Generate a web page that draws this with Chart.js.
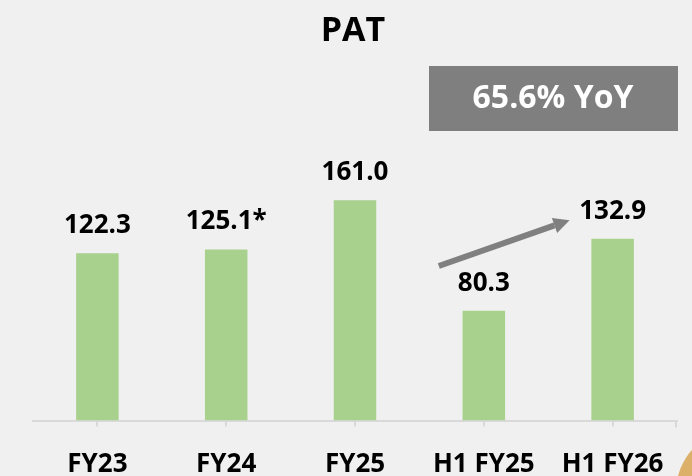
<!DOCTYPE html>
<html>
<head>
<meta charset="utf-8">
<script src="https://cdn.jsdelivr.net/npm/chart.js@4/dist/chart.umd.min.js"></script>
<style>
    html, body { margin: 0; padding: 0; background: #f0f0f0; }
    #wrap { width: 692px; height: 476px; position: relative; }
</style>
</head>
<body>
<div id="wrap"><canvas id="patChart"></canvas></div>
<script>
"use strict";
const categories = ["FY23", "FY24", "FY25", "H1 FY25", "H1 FY26"];
const patValues = [122.3, 125.1, 161.0, 80.3, 132.9];
const patLabels = ["122.3", "125.1*", "161.0", "80.3", "132.9"];
const titleText = "PAT";
const yoyText = "65.6% YoY";

const FONT = "'Open Sans', 'Noto Sans', sans-serif";

// etiquetas, titulo, caja gris y flecha
const decoraciones = {
    id: "decoraciones",
    afterDatasetsDraw(chart) {
        const ctx = chart.ctx;
        const x = chart.scales.x;
        const y = chart.scales.y;
        const meta = chart.getDatasetMeta(0);
        const area = chart.chartArea;

        ctx.save();
        // circulo naranja esquina
        ctx.fillStyle = "#DDB06A";
        ctx.beginPath();
        ctx.arc(740, 492, 64, 0, Math.PI * 2);
        ctx.fill();

        // marca final del eje
        ctx.strokeStyle = "#D9D9D9";
        ctx.lineWidth = 2;
        ctx.beginPath();
        ctx.moveTo(area.right - 1, area.bottom);
        ctx.lineTo(area.right - 1, area.bottom + 7);
        ctx.stroke();

        ctx.fillStyle = "#000";
        ctx.textAlign = "center";
        ctx.textBaseline = "alphabetic";
        ctx.font = "bold 26px " + FONT;
        meta.data.forEach((bar, i) => {
            ctx.fillText(patLabels[i], bar.x, bar.y - 20);
        });

        ctx.font = "bold 34px " + FONT;
        ctx.textBaseline = "middle";
        ctx.fillText(titleText, 353, 31);

        ctx.fillStyle = "#7F7F7F";
        ctx.fillRect(429, 66, 249, 65);
        ctx.fillStyle = "#fff";
        ctx.font = "bold 32px " + FONT;
        ctx.fillText(yoyText, 553, 99);

        // flecha de crecimiento H1 FY25 -> H1 FY26
        const x0 = x.getPixelForValue(3) - 45;
        const y0 = y.getPixelForValue(113);
        const x1 = x.getPixelForValue(4) - 43;
        const y1 = y.getPixelForValue(146.5);
        const ang = Math.atan2(y1 - y0, x1 - x0);
        const head = 16;
        ctx.strokeStyle = "#808080";
        ctx.fillStyle = "#808080";
        ctx.lineWidth = 6;
        ctx.beginPath();
        ctx.moveTo(x0, y0);
        ctx.lineTo(x1 - head * Math.cos(ang), y1 - head * Math.sin(ang));
        ctx.stroke();
        ctx.beginPath();
        ctx.moveTo(x1, y1);
        ctx.lineTo(x1 - head * Math.cos(ang) + 8 * Math.sin(ang), y1 - head * Math.sin(ang) - 8 * Math.cos(ang));
        ctx.lineTo(x1 - head * Math.cos(ang) - 8 * Math.sin(ang), y1 - head * Math.sin(ang) + 8 * Math.cos(ang));
        ctx.closePath();
        ctx.fill();
        ctx.restore();
    },
};

const ctxChart = document.querySelector("#patChart");
new Chart(ctxChart, {
    type: "bar",
    data: {
        labels: categories,
        datasets: [
            {
                label: "PAT",
                data: patValues,
                backgroundColor: "#A9D18E",
                barPercentage: 0.33,
                categoryPercentage: 1,
            },
        ],
    },
    options: {
        responsive: true,
        maintainAspectRatio: false,
        animation: false,
        layout: { padding: { left: 33, right: 15, top: 147, bottom: 0 } },
        plugins: {
            legend: { display: false },
            tooltip: { enabled: false },
        },
        scales: {
            x: {
                offset: true,
                afterFit: (scale) => { scale.height = 55.5; },
                grid: {
                    offset: false,
                    drawOnChartArea: false,
                    drawTicks: true,
                    tickLength: 6,
                    color: "#D9D9D9",
                    lineWidth: 2,
                },
                border: { color: "#D9D9D9", width: 2 },
                ticks: {
                    color: "#000",
                    padding: 22,
                    font: { family: FONT, size: 26, weight: "bold" },
                    maxRotation: 0,
                },
            },
            y: {
                display: false,
                min: 0,
                max: 200,
            },
        },
    },
    plugins: [decoraciones],
});
</script>
</body>
</html>
